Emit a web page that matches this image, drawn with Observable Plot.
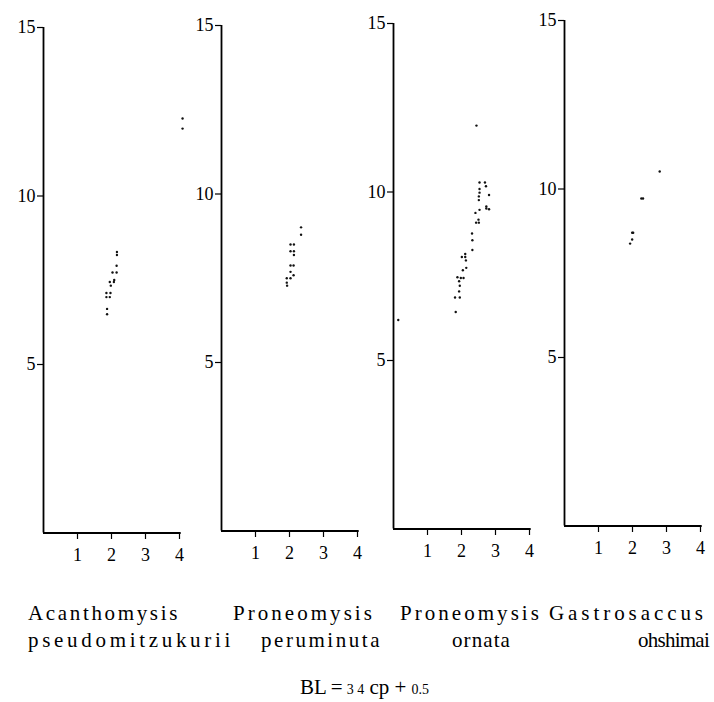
<!DOCTYPE html>
<html><head><meta charset="utf-8">
<script src="https://cdn.jsdelivr.net/npm/d3@7"></script>
<script src="https://cdn.jsdelivr.net/npm/@observablehq/plot@0.6"></script>
<style>
body{margin:0;background:#fff;}
#root{position:relative;width:714px;height:702px;overflow:hidden;font-family:"Liberation Serif","Times New Roman",Times,"DejaVu Serif","Noto Serif",serif;color:#000;background:#fff}
.panel{position:absolute}
.lab{position:absolute;white-space:nowrap;font-size:21px;line-height:1}
#formula{position:absolute;white-space:nowrap;line-height:1;font-size:21px}
#formula .s{font-size:14px}
</style></head><body><div id="root"></div>
<script>
// tick values
const xTicks = [1, 2, 3, 4];
const yTicks = [5, 10, 15];

// species names (two lines each)
const namesLine1 = ["Acanthomysis", "Proneomysis", "Proneomysis", "Gastrosaccus"];
const namesLine2 = ["pseudomitzukurii", "peruminuta", "ornata", "ohshimai"];

// Acanthomysis pseudomitzukurii : cp (x) and BL (y)
const acanthoCp = [2.16, 2.16, 2.15, 2.03, 2.15, 2.08, 1.95, 2.07, 1.98, 1.85, 1.97, 1.85, 1.95, 1.87, 1.87, 4.09, 4.09];
const acanthoBl = [8.34, 8.25, 7.93, 7.73, 7.73, 7.51, 7.45, 7.45, 7.34, 7.12, 7.12, 7.00, 7.00, 6.65, 6.49, 12.3, 12.0];

// Proneomysis peruminuta
const perumCp = [2.34, 2.34, 2.03, 2.13, 2.03, 2.13, 2.13, 2.03, 2.12, 2.03, 2.12, 1.92, 2.03, 1.92, 1.93];
const perumBl = [9.01, 8.79, 8.50, 8.50, 8.30, 8.30, 8.19, 7.88, 7.88, 7.69, 7.59, 7.50, 7.50, 7.37, 7.28];

// Proneomysis ornata
const ornataCp = [2.44, 2.53, 2.69, 2.72, 2.53, 2.53, 2.81, 2.51, 2.51, 2.73, 2.73, 2.81, 2.53, 2.41, 2.50, 2.43, 2.51, 2.31, 2.32, 2.32, 2.11, 2.01, 2.11, 2.13, 2.14, 2.04, 1.88, 1.98, 2.06, 1.93, 1.95, 1.93, 1.81, 1.95, 1.83, 0.14];
const ornataBl = [11.97, 10.28, 10.28, 10.17, 10.09, 9.98, 9.91, 9.87, 9.76, 9.57, 9.51, 9.49, 9.47, 9.38, 9.18, 9.09, 9.09, 8.77, 8.57, 8.28, 8.16, 8.07, 8.07, 7.97, 7.75, 7.68, 7.47, 7.45, 7.45, 7.35, 7.22, 7.05, 6.87, 6.87, 6.44, 6.2];

// Gastrosaccus ohshimai
const ohshimaiCp = [2.26, 2.31, 1.99, 2.02, 1.99, 1.93, 2.80];
const ohshimaiBl = [9.72, 9.72, 8.70, 8.70, 8.50, 8.38, 10.52];

const seriesCp = [acanthoCp, perumCp, ornataCp, ohshimaiCp];
const seriesBl = [acanthoBl, perumBl, ornataBl, ohshimaiBl];

const FONT = '"Liberation Serif","Times New Roman",Times,"DejaVu Serif","Noto Serif",serif';
const root = document.getElementById("root");
const frames = [
  {x0: 43, y15: 27},
  {x0: 221, y15: 25},
  {x0: 392.5, y15: 23},
  {x0: 564, y15: 20}
];
const mL = 40, mT = 10, mB = 40, mR = 14;
const unitX = 34, unitY = 33.7;
const xMax = 4.05;
const W = Math.round(mL + xMax * unitX + mR);
const H = Math.round(mT + 15 * unitY + mB);

seriesCp.forEach((cp, i) => {
  const pts = cp.map((c, j) => ({cp: c, bl: seriesBl[i][j]}));
  const svg = Plot.plot({
    width: W, height: H,
    marginLeft: mL, marginTop: mT, marginBottom: mB, marginRight: mR,
    x: {domain: [0, xMax], range: [mL, mL + xMax * unitX]},
    y: {domain: [0, 15], range: [mT + 15 * unitY, mT]},
    style: {fontFamily: FONT, fontSize: "18px", background: "transparent", color: "#000", overflow: "visible"},
    marks: [
      Plot.axisX({ticks: xTicks, tickFormat: d3.format("d"), tickSize: 6, tickPadding: 9, label: null, stroke: "#000", strokeWidth: 1.2, fontFamily: FONT, fontSize: 18}),
      Plot.axisY({ticks: yTicks, tickFormat: d3.format("d"), tickSize: 6, tickPadding: 2, label: null, stroke: "#000", strokeWidth: 1.2, fontFamily: FONT, fontSize: 18}),
      Plot.ruleX([0], {y1: 0, y2: 15, stroke: "#000", strokeWidth: 1.8}),
      Plot.ruleY([0], {x1: 0, x2: xMax, stroke: "#000", strokeWidth: 1.8}),
      Plot.dot(pts, {x: "cp", y: "bl", r: 1.2, fill: "#111", stroke: "none"})
    ]
  });
  svg.classList.add("panel");
  svg.style.left = (frames[i].x0 - mL) + "px";
  svg.style.top = (frames[i].y15 - mT) + "px";
  root.appendChild(svg);
});

// caption: species names
const line1Pos = [[28, 180], [233, 375], [400, 542], [549, 707]];
const line2Pos = [[28, 234], [261, 382], [452, 511], [638, 709]];
function addLabel(text, span, top) {
  const el = document.createElement("div");
  el.className = "lab";
  el.textContent = text;
  el.style.left = span[0] + "px";
  el.style.top = top + "px";
  root.appendChild(el);
  const w = el.getBoundingClientRect().width;
  const ls = (span[1] - span[0] - w) / text.length;
  el.style.letterSpacing = ls.toFixed(2) + "px";
}
namesLine1.forEach((t, i) => addLabel(t, line1Pos[i], 603));
namesLine2.forEach((t, i) => addLabel(t, line2Pos[i], 630));

const f = document.createElement("div");
f.id = "formula";
f.innerHTML = 'BL<span style="padding:0 4px">=</span><span class="s">3 4</span> cp + <span class="s">0.5</span>';
f.style.left = "300px";
f.style.top = "677px";
root.appendChild(f);
</script>
</body></html>
